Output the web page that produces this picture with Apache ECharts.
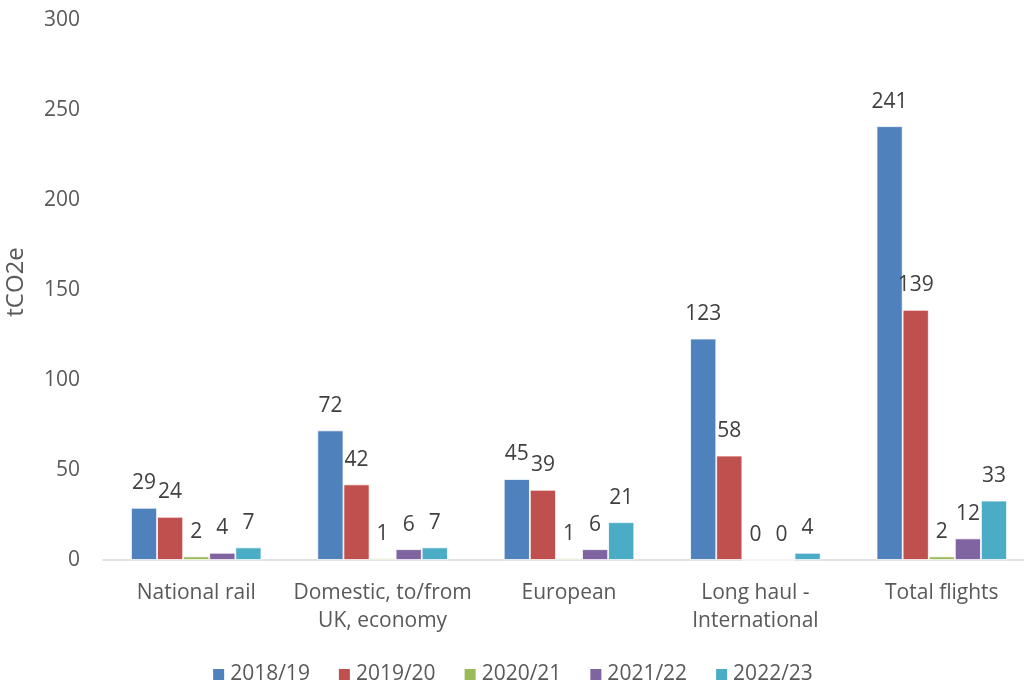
<!DOCTYPE html>
<html>
<head>
<meta charset="utf-8">
<script src="https://cdn.jsdelivr.net/npm/echarts@6/dist/echarts.min.js"></script>
<style>
  html, body { margin: 0; padding: 0; background: #fff; }
  #chart { width: 1024px; height: 686px; }
</style>
</head>
<body>
<div id="chart"></div>
<script>
// categories and yearly values (tCO2e)
const categories = ['National rail', 'Domestic, to/from\nUK, economy', 'European', 'Long haul -\nInternational', 'Total flights'];
const years = ['2018/19', '2019/20', '2020/21', '2021/22', '2022/23'];
const v2018 = [29, 72, 45, 123, 241];
const v2019 = [24, 42, 39, 58, 139];
const v2020 = [2, 1, 1, 0, 2];
const v2021 = [4, 6, 6, 0, 12];
const v2022 = [7, 7, 21, 4, 33];
const yTicks = { min: 0, max: 300, interval: 50 };

const colors = ['#4F81BD', '#C0504D', '#9BBB59', '#8064A2', '#4BACC6'];
const font = '"Open Sans", sans-serif';

const chart = echarts.init(document.getElementById('chart'));

const seriesData = [v2018, v2019, v2020, v2021, v2022];
const series = seriesData.map((d, i) => ({
    name: years[i],
    type: 'bar',
    data: d,
    barGap: 0,
    barCategoryGap: '30%',
    itemStyle: { color: colors[i], borderColor: '#fff', borderWidth: 0.8 },
    label: {
        show: true, position: 'top', distance: 14,
        color: '#404040', fontFamily: font, fontSize: 21
    }
}));

chart.setOption({
    backgroundColor: '#fff',
    animation: false,
    color: colors,
    textStyle: { fontFamily: font },
    grid: { left: 103, right: -11, top: 20, bottom: 126, outerBoundsMode: 'none' },
    legend: {
        data: years,
        top: 659,
        left: 'center',
        icon: 'rect',
        itemWidth: 13,
        itemHeight: 13,
        itemGap: 27,
        textStyle: { color: '#595959', fontSize: 21, fontFamily: font }
    },
    xAxis: {
        type: 'category',
        data: categories,
        axisLine: { lineStyle: { color: '#D9D9D9', width: 1.5 } },
        axisTick: { show: false },
        axisLabel: {
            color: '#595959', fontSize: 21, fontFamily: font,
            margin: 19, lineHeight: 28, interval: 0
        }
    },
    yAxis: {
        type: 'value',
        min: yTicks.min, max: yTicks.max, interval: yTicks.interval,
        name: 'tCO2e',
        nameLocation: 'middle',
        nameGap: 75,
        nameTextStyle: { color: '#595959', fontSize: 24, fontFamily: font, padding: [0, 0, 0, 16] },
        axisLine: { show: false },
        axisTick: { show: false },
        splitLine: { show: false },
        axisLabel: { color: '#595959', fontSize: 21, fontFamily: font, margin: 23 }
    },
    series: series
});

window.addEventListener('resize', () => chart.resize());
</script>
</body>
</html>
